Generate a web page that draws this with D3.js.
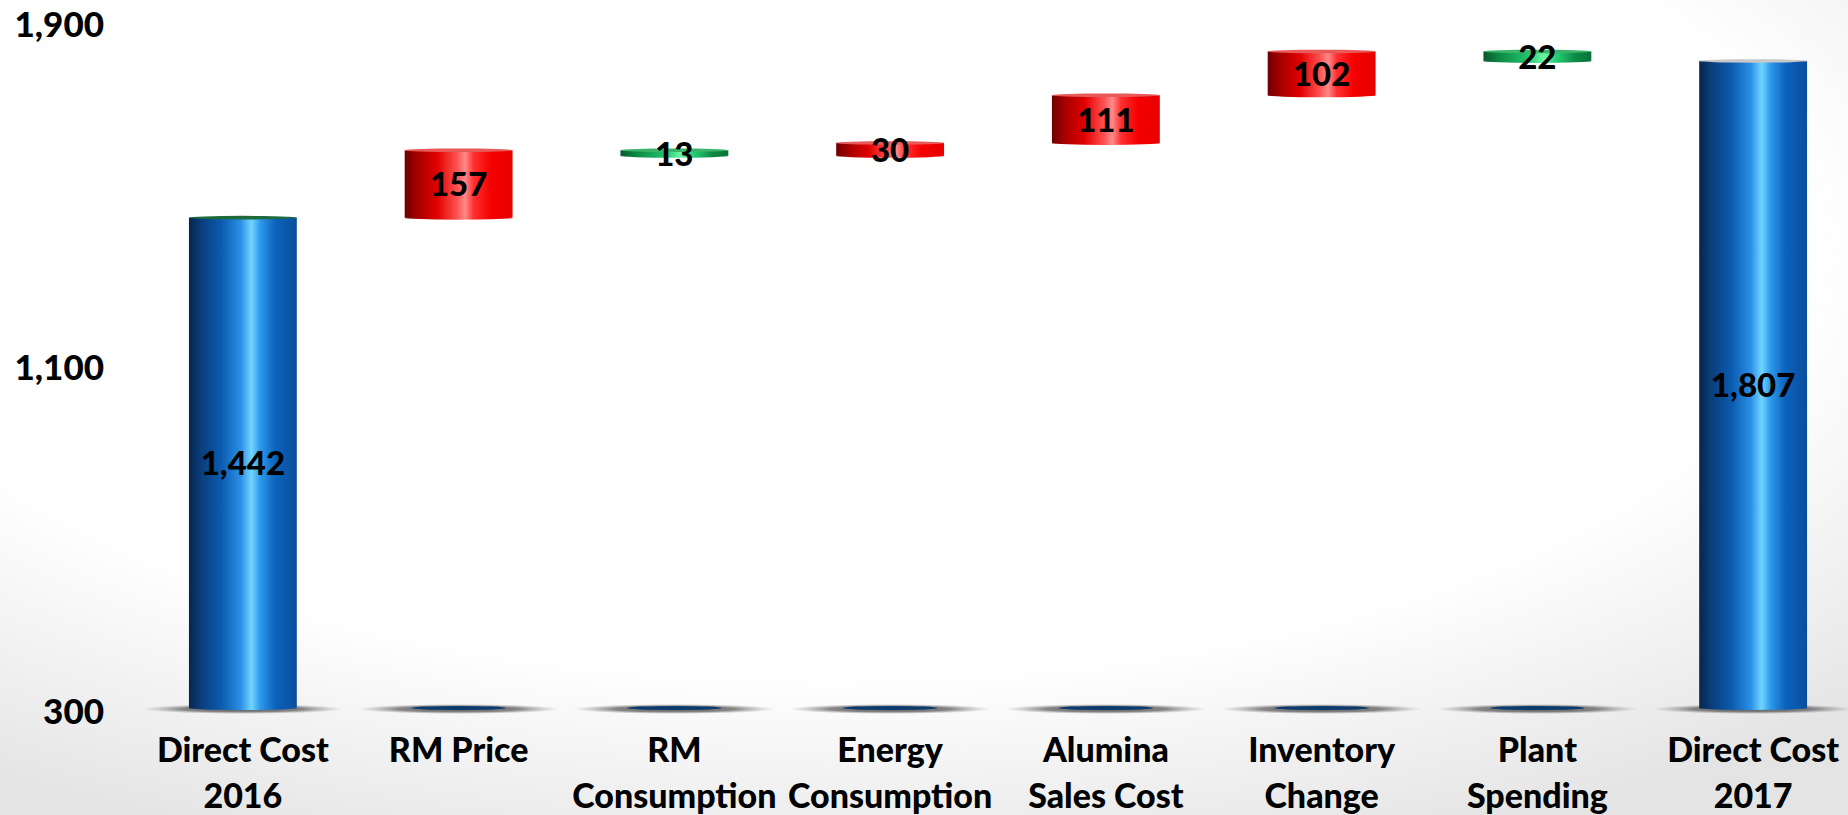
<!DOCTYPE html>
<html>
<head>
<meta charset="utf-8">
<script src="https://cdn.jsdelivr.net/npm/d3@7"></script>
<style>
html,body{margin:0;padding:0;background:#fff;overflow:hidden;}
svg{display:block;}
</style>
</head>
<body>
<svg id="chart" width="1848" height="815"></svg>
<script>
// ---- data ----
const categories = ["Direct Cost 2016","RM Price","RM Consumption","Energy Consumption","Alumina Sales Cost","Inventory Change","Plant Spending","Direct Cost 2017"];
const labelLines = [["Direct Cost","2016"],["RM Price"],["RM","Consumption"],["Energy","Consumption"],["Alumina","Sales Cost"],["Inventory","Change"],["Plant","Spending"],["Direct Cost","2017"]];
const values = [1442, 157, -13, 30, 111, 102, -22, 1807];
const kinds = ["total","up","down","up","up","up","down","total"];
const valueLabels = ["1,442","157","13","30","111","102","22","1,807"];
const yTicks = [300, 1100, 1900];
const yTickLabels = ["300","1,100","1,900"];

// ---- layout ----
const W = 1848, H = 815;
const FONT = "Lato, 'Open Sans', sans-serif";
const svg = d3.select("#chart");
const defs = svg.append("defs");

// background vignette
const bg = defs.append("radialGradient").attr("id","bg").attr("cx","45%").attr("cy","30%").attr("r","80%");
bg.append("stop").attr("offset","0%").attr("stop-color","#ffffff");
bg.append("stop").attr("offset","66%").attr("stop-color","#ffffff");
bg.append("stop").attr("offset","100%").attr("stop-color","#e4e4e4");
svg.append("rect").attr("width",W).attr("height",H).attr("fill","url(#bg)");

function cyl(id, stops){
  const g = defs.append("linearGradient").attr("id",id).attr("x1","0%").attr("x2","100%").attr("y1","0%").attr("y2","0%");
  stops.forEach(s=>g.append("stop").attr("offset",s[0]).attr("stop-color",s[1]));
}
cyl("gBlue",[["0%","#06264d"],["12%","#0a3f7e"],["30%","#0b5bb0"],["48%","#2b8fe6"],["58%","#72d4ff"],["66%","#2e9aec"],["80%","#0c62bc"],["100%","#0a4e9c"]]);
cyl("gRed",[["0%","#6e0000"],["12%","#a80000"],["30%","#e00000"],["48%","#ff5050"],["56%","#ff8a8a"],["64%","#ff3030"],["80%","#f40000"],["100%","#e80000"]]);
cyl("gGreen",[["0%","#08592b"],["15%","#0d8a45"],["40%","#1fc06a"],["56%","#6cf5a8"],["66%","#2bd27a"],["85%","#0d8a45"],["100%","#0a7038"]]);

const sh = defs.append("radialGradient").attr("id","shadow");
sh.append("stop").attr("offset","0%").attr("stop-color","#4a4a4a").attr("stop-opacity",0.95);
sh.append("stop").attr("offset","60%").attr("stop-color","#6a6a6a").attr("stop-opacity",0.8);
sh.append("stop").attr("offset","100%").attr("stop-color","#9a9a9a").attr("stop-opacity",0);

const x = d3.scaleBand().domain(categories).range([135, 1861]).paddingInner(0.5).paddingOuter(0.25);
const y = d3.scaleLinear().domain([300, 1900]).range([708, 21]);

// compute waterfall spans
let run = 0;
const bars = categories.map((c,i)=>{
  let lo, hi;
  if (kinds[i]==="total"){ lo = y.domain()[0]; hi = values[i]; run = values[i]; }
  else { const start = run; run = run + values[i]; lo = Math.min(start, run); hi = Math.max(start, run); }
  return {cat:c, lo, hi, kind:kinds[i], label:valueLabels[i], i};
});

// floor shadows
const base = y(300);
svg.append("g").selectAll("ellipse").data(bars).join("ellipse")
  .attr("cx", d=>x(d.cat)+x.bandwidth()/2)
  .attr("cy", base+1)
  .attr("rx", x.step()*0.47)
  .attr("ry", 5)
  .attr("fill","url(#shadow)");

// dark blue stubs under floating bars
svg.append("g").selectAll("ellipse").data(bars.filter(d=>d.kind!=="total")).join("ellipse")
  .attr("cx", d=>x(d.cat)+x.bandwidth()/2)
  .attr("cy", base)
  .attr("rx", x.bandwidth()*0.44)
  .attr("ry", 2)
  .attr("fill","#0b3a6e");

const fillOf = k => k==="total" ? "url(#gBlue)" : (k==="up" ? "url(#gRed)" : "url(#gGreen)");
const capOf = (d) => d.i===0 ? "#1d6b3c" : (d.kind==="total" ? "#c8c8c8" : (d.kind==="up" ? "#e85a5a" : "#3bb46a"));

const gb = svg.append("g");
gb.selectAll("rect").data(bars).join("rect")
  .attr("x", d=>x(d.cat))
  .attr("width", x.bandwidth())
  .attr("y", d=>y(d.hi))
  .attr("height", d=>Math.max(1, y(d.lo)-y(d.hi)))
  .attr("fill", d=>fillOf(d.kind));
gb.selectAll("ellipse.bot").data(bars).join("ellipse").attr("class","bot")
  .attr("cx", d=>x(d.cat)+x.bandwidth()/2)
  .attr("cy", d=>y(d.lo))
  .attr("rx", x.bandwidth()/2)
  .attr("ry", 2)
  .attr("fill", d=>fillOf(d.kind));
gb.selectAll("ellipse.top").data(bars).join("ellipse").attr("class","top")
  .attr("cx", d=>x(d.cat)+x.bandwidth()/2)
  .attr("cy", d=>y(d.hi))
  .attr("rx", x.bandwidth()/2)
  .attr("ry", 1.8)
  .attr("fill", d=>capOf(d));

// value labels
svg.append("g").selectAll("text").data(bars).join("text")
  .attr("x", d=>x(d.cat)+x.bandwidth()/2)
  .attr("y", d=>(y(d.lo)+y(d.hi))/2)
  .attr("dy","0.38em")
  .attr("text-anchor","middle")
  .attr("font-family",FONT)
  .attr("font-weight",900)
  .attr("font-size", 33)
  .attr("fill","#000")
  .text(d=>d.label);

// y axis labels (no line)
svg.append("g").selectAll("text").data(yTicks).join("text")
  .attr("x", 104)
  .attr("y", d=>y(d))
  .attr("dy","0.45em")
  .attr("text-anchor","end")
  .attr("font-family",FONT)
  .attr("font-weight",900)
  .attr("font-size", 35)
  .attr("fill","#000")
  .text((d,i)=>yTickLabels[i]);

// x labels
const xl = svg.append("g").selectAll("text").data(categories).join("text")
  .attr("x", d=>x(d)+x.bandwidth()/2)
  .attr("y", 762)
  .attr("text-anchor","middle")
  .attr("font-family",FONT)
  .attr("font-weight",900)
  .attr("font-size", 34)
  .attr("fill","#000");
xl.selectAll("tspan").data((d,i)=>labelLines[i].map(t=>({t, cx: x(d)+x.bandwidth()/2}))).join("tspan")
  .attr("x", d=>d.cx)
  .attr("dy", (d,j)=> j===0 ? 0 : 46)
  .text(d=>d.t);
</script>
</body>
</html>
